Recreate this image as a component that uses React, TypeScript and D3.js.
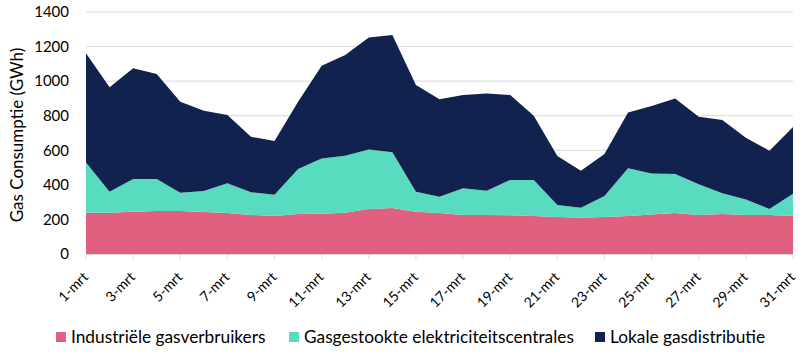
import React from "react";
import * as d3 from "d3";

const days: number[] = Array.from({ length: 31 }, (_, i) => i + 1);
const industrie: number[] = [239, 239, 245, 249, 249, 243, 237, 226, 220, 232, 233, 239, 260, 266, 245, 237, 226, 226, 224, 220, 214, 210, 214, 220, 229, 237, 226, 231, 226, 226, 220];
const centrales: number[] = [291, 121, 189, 185, 106, 121, 172, 131, 123, 260, 320, 330, 345, 322, 115, 94, 154, 140, 204, 208, 69, 58, 121, 276, 236, 226, 177, 120, 90, 34, 129];
const lokaal: number[] = [631, 604, 640, 607, 526, 465, 395, 321, 311, 389, 536, 582, 648, 679, 617, 564, 540, 563, 492, 372, 284, 214, 243, 323, 391, 437, 391, 424, 357, 338, 386];
const seriesNames: string[] = ["Industriële gasverbruikers", "Gasgestookte elektriciteitscentrales", "Lokale gasdistributie"];
const colors: string[] = ["#E15F7F", "#58DBBF", "#12224F"];
const yTicks: number[] = [0, 200, 400, 600, 800, 1000, 1200, 1400];
const yLabel = "Gas Consumptie (GWh)";

const W = 810, H = 357;
const left = 86, right = 793, top = 12, bottom = 254;
const FONT = "Lato, 'Open Sans', sans-serif";

export default function App() {
  const rows = days.map((d, i) => ({ day: d, a: industrie[i], b: centrales[i], c: lokaal[i] }));
  const stack = d3.stack<any>().keys(["a", "b", "c"]);
  const layers = stack(rows);
  const x = d3.scaleLinear().domain([1, 31]).range([left, right]);
  const y = d3.scaleLinear().domain([0, 1400]).range([bottom, top]);
  const area = d3
    .area<any>()
    .x((d) => x(d.data.day))
    .y0((d) => y(d[0]))
    .y1((d) => y(d[1]));
  const tickDays = days.filter((d) => d % 2 === 1);
  const legendX = [56, 289, 595];

  return (
    <svg width={W} height={H} style={{ position: "absolute", left: 0, top: 0, background: "#fff" }} fontFamily={FONT}>
      {yTicks.map((t) => (
        <g key={t}>
          {t > 0 && <line x1={left} x2={right} y1={y(t)} y2={y(t)} stroke="#d9d9d9" strokeWidth={1} />}
          <text x={69} y={y(t)} dy="0.35em" textAnchor="end" fontSize={15} fill="#000">
            {t}
          </text>
        </g>
      ))}
      {layers.map((l, i) => (
        <path key={i} d={area(l) || ""} fill={colors[i]} />
      ))}
      <line x1={left} x2={right} y1={bottom + 0.5} y2={bottom + 0.5} stroke="#d9d9d9" />
      {tickDays.map((d) => (
        <g key={d}>
          <line x1={x(d)} x2={x(d)} y1={bottom} y2={bottom + 5} stroke="#d9d9d9" />
          <text transform={`translate(${x(d) + 3},${278}) rotate(-45)`} textAnchor="end" fontSize={14} fill="#000">
            {`${d}-mrt`}
          </text>
        </g>
      ))}
      <text transform={`translate(23,${(top + bottom) / 2 + 2}) rotate(-90)`} textAnchor="middle" fontSize={17} fill="#000">
        {yLabel}
      </text>
      {seriesNames.map((n, i) => (
        <g key={n}>
          <rect x={legendX[i]} y={332} width={10} height={10} fill={colors[i]} />
          <text x={legendX[i] + 15} y={343} fontSize={17.3} fill="#000">
            {n}
          </text>
        </g>
      ))}
    </svg>
  );
}
